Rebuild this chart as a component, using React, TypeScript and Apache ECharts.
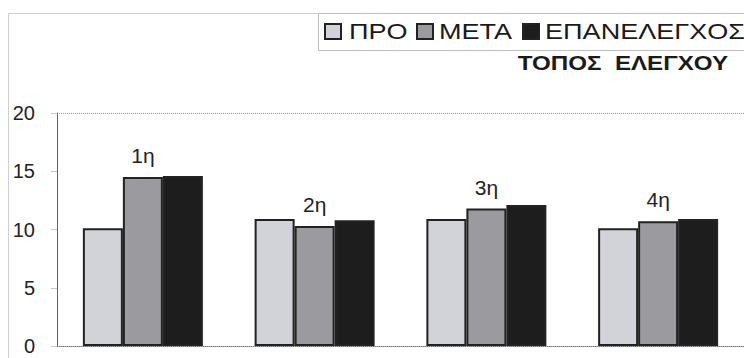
import React, { useEffect, useRef } from "react";
import * as echarts from "echarts";

// Measurement positions (categories) and the three sessions
const categories = ["1η", "2η", "3η", "4η"];
const seriesNames = ["ΠΡΟ", "ΜΕΤΑ", "ΕΠΑΝΕΛΕΓΧΟΣ"];
const proValues = [10.1, 10.9, 10.9, 10.1];
const metaValues = [14.5, 10.3, 11.8, 10.7];
const epanValues = [14.6, 10.8, 12.1, 10.9];
const yTicks = [0, 5, 10, 15, 20];
const subtitle = "ΤΟΠΟΣ  ΕΛΕΓΧΟΥ";

const fillColors = ["#d2d2d9", "#9b9b9f", "#1d1d1d"];
const edgeColor = "#222222";
const font = "Arial, 'Liberation Sans', sans-serif";

// Legend layout: left edge of each swatch and of each caption
const legendIconX = [324, 416, 522];
const legendTextX = [349, 439, 545];

export default function App() {
  const ref = useRef<HTMLDivElement>(null);

  useEffect(() => {
    if (!ref.current) return;
    const chart = echarts.init(ref.current, undefined, { renderer: "svg" });
    const valueSets = [proValues, metaValues, epanValues];

    const legendItems: any[] = [];
    seriesNames.forEach((name, i) => {
      legendItems.push({
        type: "rect",
        silent: true,
        shape: { x: legendIconX[i] + 1, y: 24, width: 16, height: 15 },
        style: { fill: fillColors[i], stroke: edgeColor, lineWidth: 2 },
      });
      legendItems.push({
        type: "text",
        silent: true,
        x: legendTextX[i],
        y: 31,
        scaleX: 1.23,
        style: {
          text: name,
          align: "left",
          verticalAlign: "middle",
          fontFamily: font,
          fontSize: 22,
          fill: "#1a1a1a",
        },
      });
    });

    chart.setOption({
      animation: false,
      backgroundColor: "#ffffff",
      textStyle: { fontFamily: font },
      grid: { left: 57, right: -2, top: 113, bottom: 12, containLabel: false },
      xAxis: {
        type: "category",
        data: categories,
        axisLine: { show: true, lineStyle: { color: "#777", type: "dotted", width: 1 } },
        axisTick: { show: false },
        axisLabel: { show: false },
        splitLine: { show: false },
      },
      yAxis: {
        type: "value",
        min: yTicks[0],
        max: yTicks[yTicks.length - 1],
        interval: 5,
        axisLine: { show: true, lineStyle: { color: "#666", width: 1 } },
        axisTick: { show: true, length: 6, lineStyle: { color: "#c8c8c8" } },
        axisLabel: {
          fontFamily: font,
          fontSize: 20,
          color: "#222",
          margin: 22,
        },
        splitLine: {
          show: true,
          lineStyle: {
            color: ["transparent", "transparent", "transparent", "transparent", "#9a9a9a"],
            type: "dotted",
            width: 1,
          },
        },
      },
      series: seriesNames.map((name, i) => ({
        name,
        type: "bar",
        data: valueSets[i],
        barWidth: 40,
        barGap: "0%",
        itemStyle: {
          color: fillColors[i],
          borderColor: edgeColor,
          borderWidth: 2,
        },
        label:
          i === 1
            ? {
                show: true,
                position: "top",
                distance: 11,
                formatter: "{b}",
                fontFamily: font,
                fontSize: 21,
                color: "#222",
              }
            : { show: false },
      })),
      graphic: [
        {
          type: "rect",
          silent: true,
          shape: { x: 8.5, y: 13.5, width: 760, height: 360 },
          style: { fill: "none", stroke: "#cfcfcf", lineWidth: 1 },
        },
        {
          type: "rect",
          silent: true,
          shape: { x: 318.5, y: 13.5, width: 440, height: 37 },
          style: { fill: "#ffffff", stroke: "#bdbdbd", lineWidth: 1 },
        },
        ...legendItems,
        {
          type: "text",
          silent: true,
          x: 728,
          y: 63,
          scaleX: 1.15,
          style: {
            text: subtitle,
            align: "right",
            verticalAlign: "middle",
            fontFamily: font,
            fontWeight: "bold",
            fontSize: 21,
            fill: "#1a1a1a",
          },
        },
      ],
    });

    return () => chart.dispose();
  }, []);

  return (
    <div
      ref={ref}
      style={{ position: "fixed", left: 0, top: 0, width: 744, height: 358 }}
    />
  );
}
